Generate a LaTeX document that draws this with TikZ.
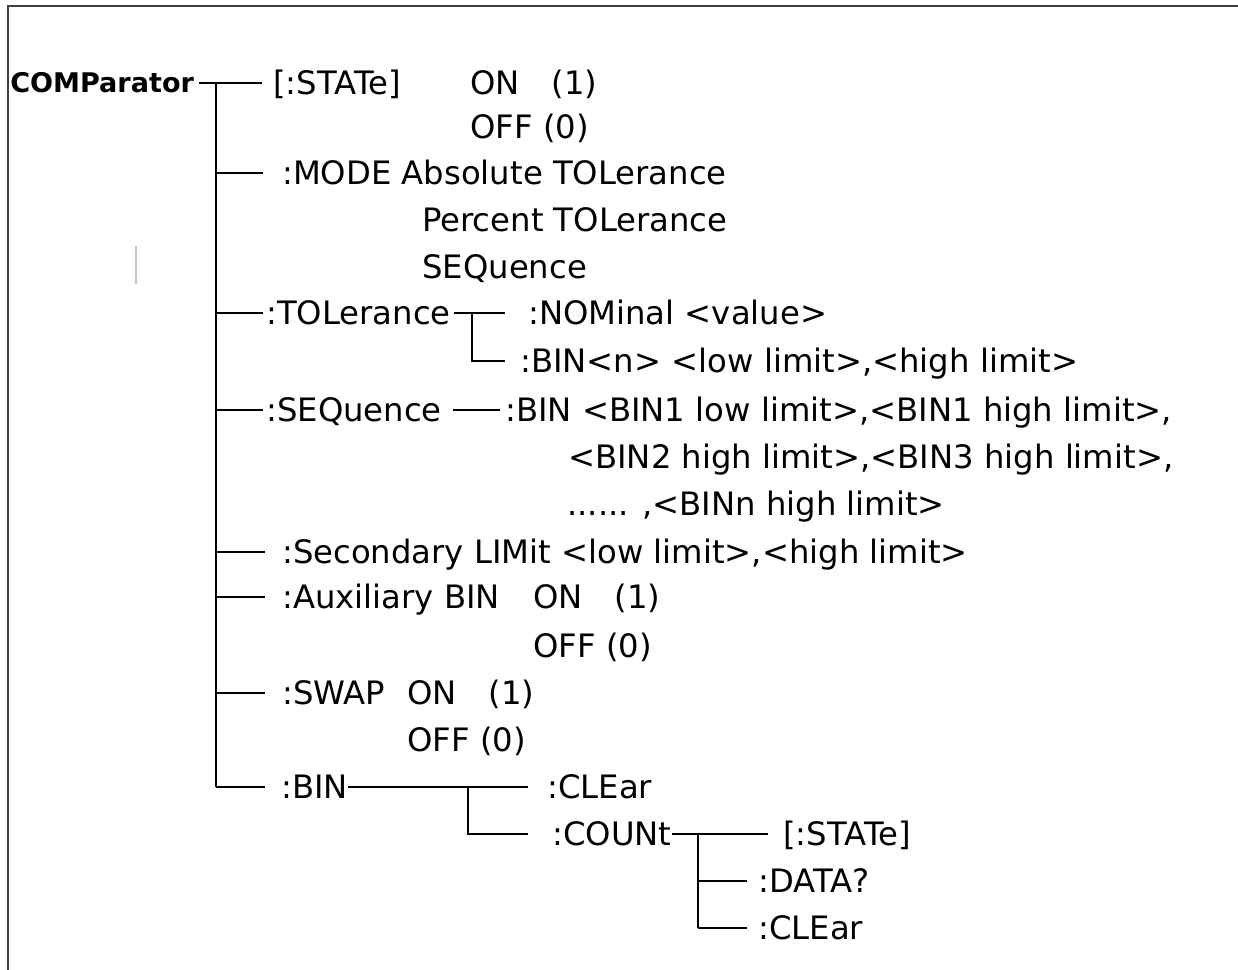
\documentclass[tikz,border=0pt]{standalone}
\usepackage{fontspec}
\setmainfont{DejaVu Sans}
\begin{document}
\begin{tikzpicture}[x=0.75pt,y=-0.75pt,
  lbl/.style={anchor=west,inner sep=0pt,text height=17.6pt,text depth=0pt,font=\fontsize{24.2pt}{29pt}\selectfont},
  head/.style={anchor=west,inner sep=0pt,text height=14.8pt,text depth=0pt,font=\fontsize{20.3pt}{24pt}\selectfont\bfseries},
  conn/.style={line width=1.2pt,draw=black},
  frameline/.style={line width=1.8pt,draw=black!75},
  faint/.style={line width=1.5pt,draw=black!22}]

\useasboundingbox (0,0) rectangle (1238,970);
\draw[frameline] (8,972) -- (8,6) -- (1240,6);
\draw[faint] (136,246) -- (136,284);

% labels
\node[head] (cmp) at (10,83) {COMParator};
\node[lbl] (state) at (273,83) {[:STATe]};
\node[lbl] (on1) at (470,83) {ON\hspace{24pt}(1)};
\node[lbl] (off1) at (470,127) {OFF (0)};
\node[lbl] (mode) at (282,173) {:MODE Absolute TOLerance};
\node[lbl] (pct) at (422,220) {Percent TOLerance};
\node[lbl] (sq) at (422,267) {SEQuence};
\node[lbl] (tol) at (266,313) {:TOLerance};
\node[lbl] (nom) at (528,313) {:NOMinal <value>};
\node[lbl] (binn) at (520,361) {:BIN<n> <low limit>,<high limit>};
\node[lbl] (seq) at (266,410) {:SEQuence};
\node[lbl] (seqbin) at (505,410) {:BIN <BIN1 low limit>,<BIN1 high limit>,};
\node[lbl] (seq2) at (568,457) {<BIN2 high limit>,<BIN3 high limit>,};
\node[lbl] (seq3) at (567,504) {...... ,<BINn high limit>};
\node[lbl] (sec) at (282,552) {:Secondary LIMit <low limit>,<high limit>};
\node[lbl] (aux) at (282,597) {:Auxiliary BIN};
\node[lbl] (auxon) at (533,597) {ON\hspace{24pt}(1)};
\node[lbl] (auxoff) at (533,646) {OFF (0)};
\node[lbl] (swap) at (282,693) {:SWAP};
\node[lbl] (swapon) at (407,693) {ON\hspace{24pt}(1)};
\node[lbl] (swapoff) at (407,740) {OFF (0)};
\node[lbl] (bin) at (281,787) {:BIN};
\node[lbl] (clr) at (547,787) {:CLEar};
\node[lbl] (cnt) at (552,834) {:COUNt};
\node[lbl] (st2) at (783,834) {[:STATe]};
\node[lbl] (data) at (758,881) {:DATA?};
\node[lbl] (clr2) at (758,928) {:CLEar};

% trunk coordinates
\coordinate (k0) at (216,83);
\coordinate (k2) at (216,173);
\coordinate (k5) at (216,313);
\coordinate (k7) at (216,410);
\coordinate (k10) at (216,552);
\coordinate (k11) at (216,597);
\coordinate (k13) at (216,693);
\coordinate (k15) at (216,787);
\coordinate (j1) at (472,313);
\coordinate (j1b) at (472,361);
\coordinate (j2) at (468,787);
\coordinate (j2b) at (468,834);
\coordinate (j3) at (698,834);
\coordinate (j3a) at (698,881);
\coordinate (j3b) at (698,928);

% connectors
\draw[conn,shorten <=3.75pt,shorten >=8.25pt] (cmp) -- (state);
\draw[conn] (k0) -- (k15);
\draw[conn,shorten >=14.25pt] (k2) -- (mode);
\draw[conn,shorten >=2.25pt] (k5) -- (tol);
\draw[conn,shorten <=2.6pt,shorten >=17.25pt] (tol) -- (nom);
\draw[conn,shorten >=11.25pt] (j1) -- (j1b) -- (binn);
\draw[conn,shorten >=2.25pt] (k7) -- (seq);
\draw[conn,shorten <=8.25pt,shorten >=3.75pt] (seq) -- (seqbin);
\draw[conn,shorten >=12.75pt] (k10) -- (sec);
\draw[conn,shorten >=12.75pt] (k11) -- (aux);
\draw[conn,shorten >=12.75pt] (k13) -- (swap);
\draw[conn,shorten >=12pt] (k15) -- (bin);
\draw[conn,shorten >=14.25pt] (bin) -- (clr);
\draw[conn,shorten >=18pt] (j2) -- (j2b) -- (cnt);
\draw[conn,shorten >=11.25pt] (cnt) -- (st2);
\draw[conn] (j3) -- (j3b);
\draw[conn,shorten >=8.25pt] (j3a) -- (data);
\draw[conn,shorten >=8.25pt] (j3b) -- (clr2);
\end{tikzpicture}
\end{document}
